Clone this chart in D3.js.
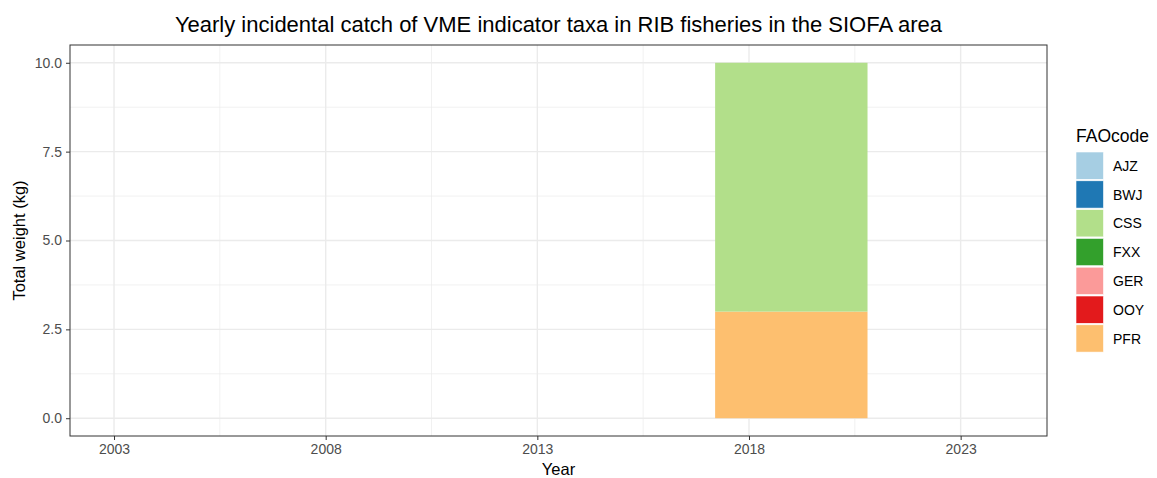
<!DOCTYPE html>
<html>
<head>
<meta charset="utf-8">
<script src="https://cdn.jsdelivr.net/npm/d3@7"></script>
<style>
  body { margin: 0; background: #fff; font-family: "Liberation Sans", Arial, sans-serif; }
</style>
</head>
<body>
<div id="chart"></div>
<script>
// data
var codes = ['AJZ','BWJ','CSS','FXX','GER','OOY','PFR'];
var colors = ['#A6CEE3','#1F78B4','#B2DF8A','#33A02C','#FB9A99','#E31A1C','#FDBF6F'];
var years = [2019];
// weight (kg) per code per year
var weights = {
  AJZ: [0], BWJ: [0], CSS: [7], FXX: [0], GER: [0], OOY: [0], PFR: [3]
};
var xTicks = [2003, 2008, 2013, 2018, 2023];
var yTicks = [0, 2.5, 5, 7.5, 10];

var width = 1157, height = 478;
var margin = {top: 45, right: 110, bottom: 42, left: 70};
var pw = 1047 - margin.left, ph = 436 - margin.top;

var svg = d3.select("#chart").append("svg")
  .attr("width", width).attr("height", height);

var g = svg.append("g")
  .attr("transform", "translate(" + margin.left + "," + margin.top + ")");

var x = d3.scaleLinear().domain([2001.96, 2025.04]).range([0, pw]);
var y = d3.scaleLinear().domain([-0.5, 10.5]).range([ph, 0]);
var barW = 3.6; // years

// gridlines
var minorX = [2005.5, 2010.5, 2015.5, 2020.5];
var minorY = [1.25, 3.75, 6.25, 8.75];
g.selectAll(".mx").data(minorX).enter().append("line")
  .attr("x1", d => x(d)).attr("x2", d => x(d)).attr("y1", 0).attr("y2", ph)
  .style("stroke", "#EBEBEB").style("stroke-width", 0.7);
g.selectAll(".my").data(minorY).enter().append("line")
  .attr("x1", 0).attr("x2", pw).attr("y1", d => y(d)).attr("y2", d => y(d))
  .style("stroke", "#EBEBEB").style("stroke-width", 0.7);
g.selectAll(".gx").data(xTicks).enter().append("line")
  .attr("x1", d => x(d)).attr("x2", d => x(d)).attr("y1", 0).attr("y2", ph)
  .style("stroke", "#EBEBEB").style("stroke-width", 1.4);
g.selectAll(".gy").data(yTicks).enter().append("line")
  .attr("x1", 0).attr("x2", pw).attr("y1", d => y(d)).attr("y2", d => y(d))
  .style("stroke", "#EBEBEB").style("stroke-width", 1.4);

// stacked bars (first code on top)
var rows = years.map(function(yr, i){
  var r = {year: yr};
  codes.forEach(function(c){ r[c] = weights[c][i]; });
  return r;
});
var stack = d3.stack().keys(codes.slice().reverse());
var series = stack(rows);
series.forEach(function(s){
  var col = colors[codes.indexOf(s.key)];
  g.selectAll(null).data(s).enter().append("rect")
    .attr("x", d => x(d.data.year - barW/2))
    .attr("width", d => x(d.data.year + barW/2) - x(d.data.year - barW/2))
    .attr("y", d => y(d[1]))
    .attr("height", d => y(d[0]) - y(d[1]))
    .style("fill", col);
});

// panel border
g.append("rect").attr("width", pw).attr("height", ph)
  .style("fill", "none").style("stroke", "#333333").style("stroke-width", 1);

// axes
var xAxis = g.append("g").attr("transform", "translate(0," + ph + ")")
  .call(d3.axisBottom(x).tickValues(xTicks).tickFormat(d3.format("d")).tickSize(4).tickPadding(4));
var yAxis = g.append("g")
  .call(d3.axisLeft(y).tickValues(yTicks).tickFormat(d3.format(".1f")).tickSize(4).tickPadding(4));
[xAxis, yAxis].forEach(function(a){
  a.select(".domain").remove();
  a.selectAll(".tick line").style("stroke", "#333333");
  a.selectAll(".tick text").style("fill", "#4D4D4D").style("font-size", "14px")
    .style("font-family", "Liberation Sans, Arial, sans-serif");
});

// titles
svg.append("text").attr("x", margin.left + pw/2).attr("y", 32)
  .attr("text-anchor", "middle").style("font-size", "22px").style("fill", "#000")
  .text("Yearly incidental catch of VME indicator taxa in RIB fisheries in the SIOFA area");
svg.append("text").attr("x", margin.left + pw/2).attr("y", 475)
  .attr("text-anchor", "middle").style("font-size", "16.5px").style("fill", "#000")
  .text("Year");
svg.append("text").attr("transform", "translate(25," + (margin.top + ph/2) + ") rotate(-90)")
  .attr("text-anchor", "middle").style("font-size", "16.5px").style("fill", "#000")
  .text("Total weight (kg)");

// legend
var leg = svg.append("g").attr("transform", "translate(1076,152)");
leg.append("text").attr("x", 0).attr("y", -10).style("font-size", "17.5px").text("FAOcode");
var item = leg.selectAll(".item").data(codes).enter().append("g")
  .attr("transform", (d, i) => "translate(0," + (i * 28.8) + ")");
item.append("rect").attr("width", 27.5).attr("height", 27.3)
  .style("fill", (d, i) => colors[i]).style("stroke", "#fff").style("stroke-width", 0.6);
item.append("text").attr("x", 37).attr("y", 14).attr("dy", "0.35em")
  .style("font-size", "14px").text(d => d);
</script>
</body>
</html>
